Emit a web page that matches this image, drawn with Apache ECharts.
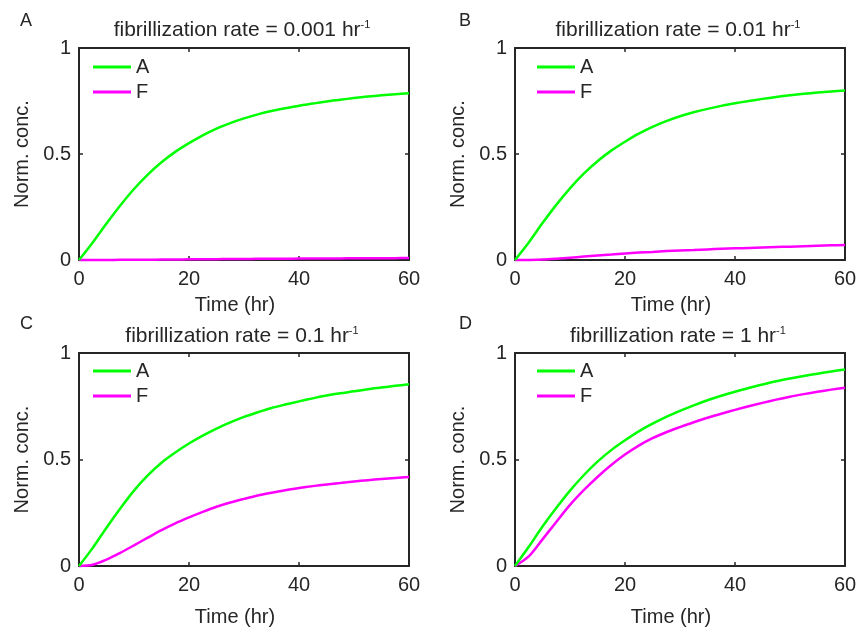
<!DOCTYPE html>
<html><head><meta charset="utf-8">
<script src="https://cdn.jsdelivr.net/npm/echarts@6/dist/echarts.min.js"></script>
<style>html,body{margin:0;padding:0;background:#fff}#c{width:860px;height:628px}</style>
</head><body><div id="c"></div>
<script>
// ---------- data ----------
const times = [0, 2.5, 5, 7.5, 10, 12.5, 15, 17.5, 20, 22.5, 25, 27.5, 30, 32.5, 35, 37.5, 40, 42.5, 45, 47.5, 50, 52.5, 55, 57.5, 60];
const panelLetters = ['A', 'B', 'C', 'D'];
const rateLabels = ['0.001', '0.01', '0.1', '1'];
const seriesNames = ['A', 'F'];
const xTicks = [0, 20, 40, 60];
const yTicks = [0, 0.5, 1];

// panel A: rate 0.001
const aRate0001 = [0, 0.083, 0.172, 0.257, 0.335, 0.403, 0.461, 0.510, 0.551, 0.588, 0.620, 0.646, 0.668, 0.687, 0.703, 0.716, 0.728, 0.738, 0.748, 0.756, 0.764, 0.771, 0.777, 0.782, 0.787];
const fRate0001 = [0, 0, 0.0003, 0.0006, 0.001, 0.0015, 0.002, 0.0025, 0.003, 0.0035, 0.004, 0.0045, 0.005, 0.0055, 0.006, 0.0063, 0.0066, 0.007, 0.0073, 0.0076, 0.008, 0.0083, 0.0086, 0.0088, 0.009];
// panel B: rate 0.01
const aRate001 = [0, 0.083, 0.174, 0.260, 0.338, 0.407, 0.466, 0.516, 0.558, 0.596, 0.628, 0.655, 0.678, 0.697, 0.713, 0.727, 0.739, 0.750, 0.760, 0.769, 0.777, 0.784, 0.790, 0.795, 0.800];
const fRate001 = [0, 0.0005, 0.002, 0.006, 0.011, 0.016, 0.021, 0.026, 0.031, 0.035, 0.038, 0.042, 0.045, 0.047, 0.050, 0.053, 0.055, 0.057, 0.059, 0.061, 0.063, 0.065, 0.067, 0.069, 0.071];
// panel C: rate 0.1
const aRate01 = [0, 0.085, 0.180, 0.270, 0.354, 0.425, 0.485, 0.533, 0.575, 0.612, 0.645, 0.674, 0.700, 0.722, 0.742, 0.758, 0.773, 0.787, 0.800, 0.811, 0.820, 0.830, 0.838, 0.846, 0.853];
const fRate01 = [0, 0.006, 0.030, 0.062, 0.097, 0.133, 0.168, 0.200, 0.228, 0.254, 0.278, 0.298, 0.315, 0.331, 0.344, 0.356, 0.366, 0.375, 0.383, 0.390, 0.397, 0.403, 0.408, 0.413, 0.418];
// panel D: rate 1
const aRate1 = [0, 0.090, 0.185, 0.272, 0.354, 0.426, 0.490, 0.544, 0.590, 0.632, 0.668, 0.700, 0.728, 0.754, 0.778, 0.799, 0.818, 0.836, 0.852, 0.867, 0.880, 0.892, 0.903, 0.913, 0.923];
const fRate1 = [0, 0.045, 0.125, 0.207, 0.287, 0.356, 0.418, 0.474, 0.523, 0.565, 0.600, 0.628, 0.652, 0.675, 0.696, 0.715, 0.733, 0.750, 0.766, 0.781, 0.795, 0.807, 0.818, 0.828, 0.837];

const panelData = [[aRate0001, fRate0001], [aRate001, fRate001], [aRate01, fRate01], [aRate1, fRate1]];

// ---------- layout / style ----------
const FONT = 'Liberation Sans, Arial, Helvetica, sans-serif';
const INK = '#262626';
const colors = ['#00ff00', '#ff00ff'];
const grids = [
  {left: 79, top: 48, width: 330, height: 212},
  {left: 515, top: 48, width: 330, height: 212},
  {left: 79, top: 353, width: 330, height: 213},
  {left: 515, top: 353, width: 330, height: 213}
];
const legendPos = [{left: 93, top: 57}, {left: 537, top: 57}, {left: 93, top: 361}, {left: 537, top: 361}];
const letterPos = [{left: 20, top: 12}, {left: 459, top: 12}, {left: 20, top: 315}, {left: 459, top: 315}];
const titleTop = [19, 19, 325, 325];
const xNameGap = [35, 35, 41, 41];

const xAxes = [], yAxes = [], series = [], legends = [], titles = [];
grids.forEach((g, i) => {
  const common = {gridIndex: i, type: 'value', splitLine: {show: false},
    axisLine: {show: true, onZero: false, lineStyle: {color: INK, width: 2}},
    axisTick: {show: true, inside: true, length: 4, lineStyle: {color: INK, width: 1.5}}};
  xAxes.push(Object.assign({}, common, {
    position: 'bottom', min: xTicks[0], max: xTicks[xTicks.length - 1], interval: xTicks[1] - xTicks[0],
    axisLabel: {margin: 9, fontSize: 20, color: INK, fontFamily: FONT},
    name: 'Time (hr)', nameLocation: 'middle', nameGap: xNameGap[i],
    nameTextStyle: {fontSize: 20, color: INK, fontFamily: FONT, padding: [0, 18, 0, 0]}
  }));
  xAxes.push(Object.assign({}, common, {
    position: 'top', min: xTicks[0], max: xTicks[xTicks.length - 1], interval: xTicks[1] - xTicks[0],
    axisLabel: {show: false}
  }));
  yAxes.push(Object.assign({}, common, {
    position: 'left', min: yTicks[0], max: yTicks[yTicks.length - 1], interval: yTicks[1] - yTicks[0],
    axisLabel: {margin: 8, fontSize: 20, color: INK, fontFamily: FONT},
    name: 'Norm. conc.', nameLocation: 'middle', nameGap: 47,
    nameTextStyle: {fontSize: 20, color: INK, fontFamily: FONT}
  }));
  yAxes.push(Object.assign({}, common, {
    position: 'right', min: yTicks[0], max: yTicks[yTicks.length - 1], interval: yTicks[1] - yTicks[0],
    axisLabel: {show: false}
  }));
  panelData[i].forEach((arr, s) => {
    series.push({
      type: 'line', name: seriesNames[s], xAxisIndex: 2 * i, yAxisIndex: 2 * i,
      data: times.map((t, k) => [t, arr[k]]),
      symbol: 'none', showSymbol: false, smooth: 0.3, clip: false,
      lineStyle: {color: colors[s], width: 2.5}, itemStyle: {color: colors[s]},
      z: 3 - s
    });
  });
  legends.push({
    left: legendPos[i].left, top: legendPos[i].top, orient: 'vertical', padding: 0,
    icon: 'rect', itemWidth: 38, itemHeight: 3, itemGap: 5, selectedMode: false,
    data: seriesNames, textStyle: {fontSize: 20, lineHeight: 20, color: INK, fontFamily: FONT}
  });
  titles.push({
    text: '{n|fibrillization rate = ' + rateLabels[i] + ' hr}{s|-1}',
    left: g.left + g.width / 2 - 2, top: titleTop[i], textAlign: 'center', padding: 0,
    textStyle: {fontWeight: 'normal', rich: {
      n: {fontSize: 21, lineHeight: 22, color: INK, fontFamily: FONT},
      s: {fontSize: 11, verticalAlign: 'top', color: INK, fontFamily: FONT}
    }}
  });
  titles.push({
    text: panelLetters[i], left: letterPos[i].left, top: letterPos[i].top, padding: 0,
    textStyle: {fontSize: 18, fontWeight: 'normal', color: INK, fontFamily: FONT}
  });
});

const chart = echarts.init(document.getElementById('c'), null, {renderer: 'canvas'});
chart.setOption({
  animation: false,
  backgroundColor: '#ffffff',
  title: titles,
  legend: legends,
  grid: grids,
  xAxis: xAxes,
  yAxis: yAxes,
  series: series
});
</script>
</body></html>
